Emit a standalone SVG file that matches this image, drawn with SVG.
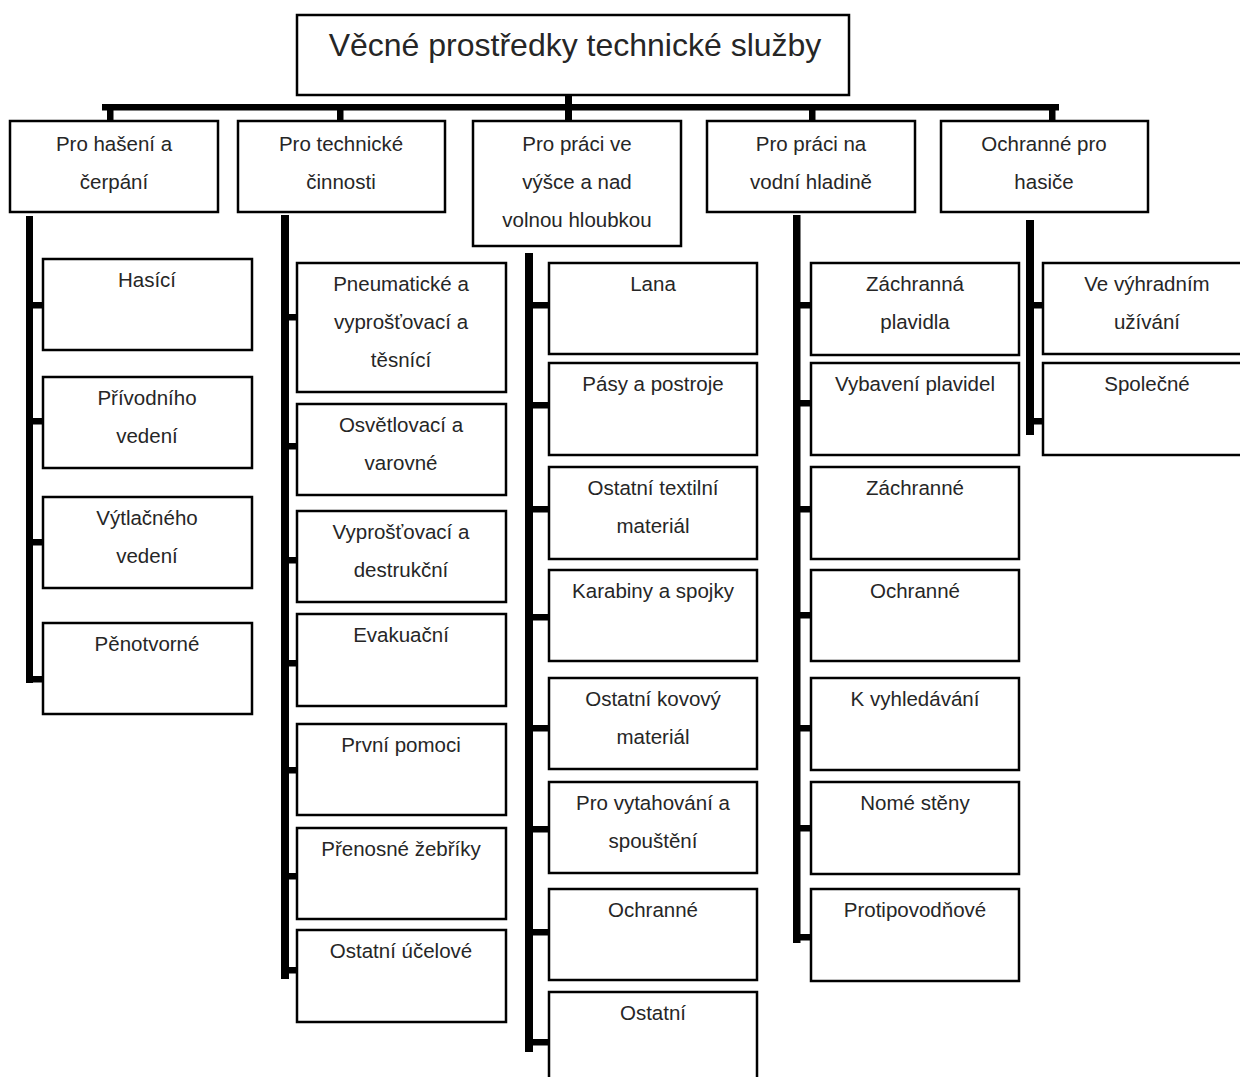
<svg xmlns="http://www.w3.org/2000/svg" width="1240" height="1077" viewBox="0 0 1240 1077">
<style>
.box{fill:#fff;stroke:#000;stroke-width:2.5}
.t{font-family:"Liberation Sans",Arial,sans-serif;font-size:20.5px;fill:#262626;text-anchor:middle}
.root{font-size:32px}
.c{fill:#000}
</style>
<rect x="0" y="0" width="1240" height="1077" fill="#fff"/>
<g id="connectors">
<rect class="c" x="565" y="95" width="7" height="12"/>
<rect class="c" x="102" y="104" width="957" height="6.5"/>
<rect class="c" x="107" y="104" width="6.5" height="18"/>
<rect class="c" x="337" y="104" width="6.5" height="18"/>
<rect class="c" x="565" y="104" width="7" height="18"/>
<rect class="c" x="809" y="104" width="6.5" height="18"/>
<rect class="c" x="1049" y="104" width="6.5" height="18"/>
<!-- col1 -->
<rect class="c" x="26" y="216" width="7" height="467"/>
<rect class="c" x="26" y="302" width="17" height="6.5"/>
<rect class="c" x="26" y="418" width="17" height="6.5"/>
<rect class="c" x="26" y="539" width="17" height="6.5"/>
<rect class="c" x="26" y="676" width="17" height="6.5"/>
<!-- col2 -->
<rect class="c" x="281" y="215" width="8" height="764"/>
<rect class="c" x="281" y="314" width="16" height="6.5"/>
<rect class="c" x="281" y="443" width="16" height="6.5"/>
<rect class="c" x="281" y="557" width="16" height="6.5"/>
<rect class="c" x="281" y="660" width="16" height="6.5"/>
<rect class="c" x="281" y="767" width="16" height="6.5"/>
<rect class="c" x="281" y="873" width="16" height="6.5"/>
<rect class="c" x="281" y="967" width="16" height="6.5"/>
<!-- col3 -->
<rect class="c" x="525" y="253" width="8" height="799"/>
<rect class="c" x="525" y="302" width="24" height="6.5"/>
<rect class="c" x="525" y="402" width="24" height="6.5"/>
<rect class="c" x="525" y="506" width="24" height="6.5"/>
<rect class="c" x="525" y="614" width="24" height="6.5"/>
<rect class="c" x="525" y="725" width="24" height="6.5"/>
<rect class="c" x="525" y="826" width="24" height="6.5"/>
<rect class="c" x="525" y="929" width="24" height="6.5"/>
<rect class="c" x="525" y="1039" width="24" height="6.5"/>
<!-- col4 -->
<rect class="c" x="793" y="215" width="7.5" height="728"/>
<rect class="c" x="793" y="302" width="18" height="6.5"/>
<rect class="c" x="793" y="400" width="18" height="6.5"/>
<rect class="c" x="793" y="506" width="18" height="6.5"/>
<rect class="c" x="793" y="612" width="18" height="6.5"/>
<rect class="c" x="793" y="725" width="18" height="6.5"/>
<rect class="c" x="793" y="825" width="18" height="6.5"/>
<rect class="c" x="793" y="934" width="18" height="6.5"/>
<!-- col5 -->
<rect class="c" x="1026" y="220" width="8" height="215"/>
<rect class="c" x="1026" y="302" width="17" height="6.5"/>
<rect class="c" x="1026" y="418" width="17" height="6.5"/>
</g>
<g id="root"><rect class="box" x="297" y="15" width="552" height="80"/><text class="t root" x="575" y="56">Věcné prostředky technické služby</text></g>
<g id="n1"><rect class="box" x="10" y="121" width="208" height="91"/><text class="t" x="114" y="151">Pro hašení a</text><text class="t" x="114" y="189">čerpání</text></g>
<g id="n2"><rect class="box" x="238" y="121" width="207" height="91"/><text class="t" x="341" y="151">Pro technické</text><text class="t" x="341" y="189">činnosti</text></g>
<g id="n3"><rect class="box" x="473" y="121" width="208" height="125"/><text class="t" x="577" y="151">Pro práci ve</text><text class="t" x="577" y="189">výšce a nad</text><text class="t" x="577" y="227">volnou hloubkou</text></g>
<g id="n4"><rect class="box" x="707" y="121" width="208" height="91"/><text class="t" x="811" y="151">Pro práci na</text><text class="t" x="811" y="189">vodní hladině</text></g>
<g id="n5"><rect class="box" x="941" y="121" width="207" height="91"/><text class="t" x="1044" y="151">Ochranné pro</text><text class="t" x="1044" y="189">hasiče</text></g>
<!-- col1 children -->
<g id="n1a"><rect class="box" x="43" y="259" width="209" height="91"/><text class="t" x="147" y="287">Hasící</text></g>
<g id="n1b"><rect class="box" x="43" y="377" width="209" height="91"/><text class="t" x="147" y="405">Přívodního</text><text class="t" x="147" y="443">vedení</text></g>
<g id="n1c"><rect class="box" x="43" y="497" width="209" height="91"/><text class="t" x="147" y="525">Výtlačného</text><text class="t" x="147" y="563">vedení</text></g>
<g id="n1d"><rect class="box" x="43" y="623" width="209" height="91"/><text class="t" x="147" y="651">Pěnotvorné</text></g>
<!-- col2 children -->
<g id="n2a"><rect class="box" x="297" y="263" width="209" height="129"/><text class="t" x="401" y="291">Pneumatické a</text><text class="t" x="401" y="329">vyprošťovací a</text><text class="t" x="401" y="367">těsnící</text></g>
<g id="n2b"><rect class="box" x="297" y="404" width="209" height="91"/><text class="t" x="401" y="432">Osvětlovací a</text><text class="t" x="401" y="470">varovné</text></g>
<g id="n2c"><rect class="box" x="297" y="511" width="209" height="91"/><text class="t" x="401" y="539">Vyprošťovací a</text><text class="t" x="401" y="577">destrukční</text></g>
<g id="n2d"><rect class="box" x="297" y="614" width="209" height="92"/><text class="t" x="401" y="642">Evakuační</text></g>
<g id="n2e"><rect class="box" x="297" y="724" width="209" height="91"/><text class="t" x="401" y="752">První pomoci</text></g>
<g id="n2f"><rect class="box" x="297" y="828" width="209" height="91"/><text class="t" x="401" y="856">Přenosné žebříky</text></g>
<g id="n2g"><rect class="box" x="297" y="930" width="209" height="92"/><text class="t" x="401" y="958">Ostatní účelové</text></g>
<!-- col3 children -->
<g id="n3a"><rect class="box" x="549" y="263" width="208" height="91"/><text class="t" x="653" y="291">Lana</text></g>
<g id="n3b"><rect class="box" x="549" y="363" width="208" height="92"/><text class="t" x="653" y="391">Pásy a postroje</text></g>
<g id="n3c"><rect class="box" x="549" y="467" width="208" height="92"/><text class="t" x="653" y="495">Ostatní textilní</text><text class="t" x="653" y="533">materiál</text></g>
<g id="n3d"><rect class="box" x="549" y="570" width="208" height="91"/><text class="t" x="653" y="598">Karabiny a spojky</text></g>
<g id="n3e"><rect class="box" x="549" y="678" width="208" height="91"/><text class="t" x="653" y="706">Ostatní kovový</text><text class="t" x="653" y="744">materiál</text></g>
<g id="n3f"><rect class="box" x="549" y="782" width="208" height="91"/><text class="t" x="653" y="810">Pro vytahování a</text><text class="t" x="653" y="848">spouštění</text></g>
<g id="n3g"><rect class="box" x="549" y="889" width="208" height="91"/><text class="t" x="653" y="917">Ochranné</text></g>
<g id="n3h"><rect class="box" x="549" y="992" width="208" height="100"/><text class="t" x="653" y="1020">Ostatní</text></g>
<!-- col4 children -->
<g id="n4a"><rect class="box" x="811" y="263" width="208" height="92"/><text class="t" x="915" y="291">Záchranná</text><text class="t" x="915" y="329">plavidla</text></g>
<g id="n4b"><rect class="box" x="811" y="363" width="208" height="92"/><text class="t" x="915" y="391">Vybavení plavidel</text></g>
<g id="n4c"><rect class="box" x="811" y="467" width="208" height="92"/><text class="t" x="915" y="495">Záchranné</text></g>
<g id="n4d"><rect class="box" x="811" y="570" width="208" height="91"/><text class="t" x="915" y="598">Ochranné</text></g>
<g id="n4e"><rect class="box" x="811" y="678" width="208" height="92"/><text class="t" x="915" y="706">K vyhledávání</text></g>
<g id="n4f"><rect class="box" x="811" y="782" width="208" height="92"/><text class="t" x="915" y="810">Nomé stěny</text></g>
<g id="n4g"><rect class="box" x="811" y="889" width="208" height="92"/><text class="t" x="915" y="917">Protipovodňové</text></g>
<!-- col5 children -->
<g id="n5a"><rect class="box" x="1043" y="263" width="208" height="91"/><text class="t" x="1147" y="291">Ve výhradním</text><text class="t" x="1147" y="329">užívání</text></g>
<g id="n5b"><rect class="box" x="1043" y="363" width="208" height="92"/><text class="t" x="1147" y="391">Společné</text></g>
</svg>
